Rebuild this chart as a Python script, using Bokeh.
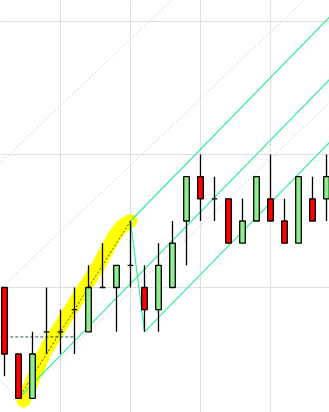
from bokeh.plotting import figure
from bokeh.models import Range1d, FixedTicker, ColumnDataSource
from bokeh.embed import file_html
from bokeh.resources import INLINE

# ---- data (price levels) ----
idx    = list(range(24))
opens  = [100, 97, 95, 98, 98, 99, 98, 100, 100, 101, 100, 99, 100, 103, 105, 104, 104, 102, 103, 104, 103, 102, 104, 104]
highs  = [100, 97, 98, 100, 99, 100, 101, 102, 101, 103, 101, 102, 103, 105, 106, 105, 104, 104, 105, 106, 104, 105, 105, 106]
lows   = [96, 95, 95, 97, 97, 97, 98, 100, 98, 100, 98, 98, 100, 101, 103, 103, 102, 102, 103, 103, 102, 102, 103, 103]
closes = [97, 95, 97, 98, 98, 99, 100, 100, 101, 101, 99, 101, 102, 105, 104, 104, 102, 103, 105, 103, 102, 105, 103, 105]

# pitchfork anchor points (A, B, C)
fork_x = [1, 9, 10]
fork_y = [95, 103, 98]

# highlighter path (yellow) along A -> B
hl_x = [1.35, 2.93, 5.0, 6.64, 7.79, 8.36, 9]
hl_y = [94.9, 97.16, 99.28, 100.9, 102.26, 102.75, 103]

# grey parallel dashed lines: base levels at index 0, common slope
grey_base = [94.4, 100.12, 105.8]
grey_slope = 0.6
grey_start = [1, -1, -1]

# small grey segment into A
seg_x = [-0.3, 1]
seg_y = [95.8, 95]

# horizontal dashed level
hline_y = 97.77
hline_x = [-0.3, 4.93]

x_ticks = [4, 9, 14, 19]
y_ticks = [100, 106, 112]

X0, X1 = -4 / 14, 325 / 14
Y0, Y1 = 100 - 125 / 22.1667, 100 + 287 / 22.1667

p = figure(width=329, height=412, output_backend="svg", toolbar_location=None,
           x_range=Range1d(X0, X1), y_range=Range1d(Y0, Y1), min_border=0)
p.axis.visible = False
p.outline_line_color = None
p.background_fill_color = "white"
p.border_fill_color = "white"
p.xgrid.ticker = FixedTicker(ticks=x_ticks)
p.ygrid.ticker = FixedTicker(ticks=y_ticks)
p.grid.grid_line_color = "#e0e0e0"
p.grid.grid_line_width = 1

# grey dashed parallels
for b, s in zip(grey_base, grey_start):
    xs = [s, X1 + 1]
    ys = [b + grey_slope * x for x in xs]
    p.line(xs, ys, line_color="#d2d2d2", line_width=1, line_dash="2 2")
p.line(seg_x, seg_y, line_color="#d2d2d2", line_width=1, line_dash="2 2")

# yellow highlighter and dotted A->B
p.line(hl_x, hl_y, line_color="#ffff00", line_width=14, line_cap="round", line_join="round")
p.line([fork_x[0], fork_x[1]], [fork_y[0], fork_y[1]], line_color="#555500", line_width=1, line_dash="2 2")

# horizontal dashed level
p.line(hline_x, [hline_y, hline_y], line_color="#2f4f4f", line_width=1, line_dash="3 2")

# Andrews pitchfork
gcol = "#33ee99"
ax, bx, cx = fork_x
ay, by, cy = fork_y
mx, my = (bx + cx) / 2, (by + cy) / 2
m = (my - ay) / (mx - ax)
xe = X1 + 1
p.line([ax, xe], [ay, ay + m * (xe - ax)], line_color=gcol, line_width=1.2)
p.line([bx, xe], [by, by + m * (xe - bx)], line_color=gcol, line_width=1.2)
p.line([cx, xe], [cy, cy + m * (xe - cx)], line_color=gcol, line_width=1.2)
p.line([bx, cx], [by, cy], line_color=gcol, line_width=1.2)

# candles
colors = []
for o, c in zip(opens, closes):
    colors.append("#90ee90" if c > o else ("#ff0000" if c < o else "black"))
src = ColumnDataSource(dict(
    x=idx, o=opens, h=highs, l=lows, c=closes,
    top=[max(o, c) for o, c in zip(opens, closes)],
    bot=[min(o, c) for o, c in zip(opens, closes)],
    col=colors))
p.segment(x0="x", y0="l", x1="x", y1="h", source=src, line_color="black", line_width=1.3)
p.vbar(x="x", width=0.4, top="top", bottom="bot", source=src,
       fill_color="col", line_color="black", line_width=1.3)

open("out.html", "w").write(file_html(p, INLINE))
